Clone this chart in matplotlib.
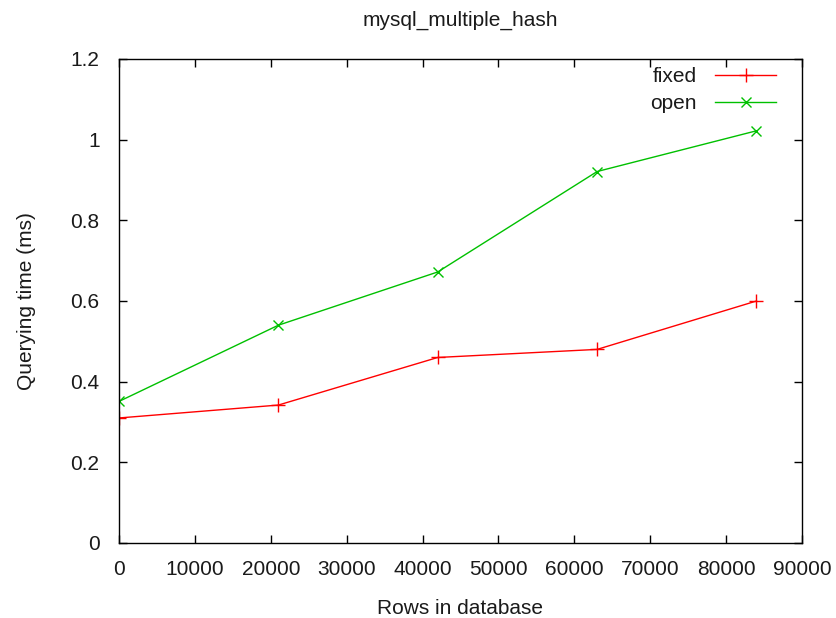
import matplotlib
matplotlib.use("Agg")
import matplotlib.pyplot as plt
from matplotlib.ticker import FuncFormatter

rows = [0, 21000, 42000, 63000, 84000]
fixed = [0.31, 0.342, 0.46, 0.48, 0.60]
open_ = [0.351, 0.54, 0.672, 0.921, 1.022]
xticks = [0, 10000, 20000, 30000, 40000, 50000, 60000, 70000, 80000, 90000]
yticks = [0, 0.2, 0.4, 0.6, 0.8, 1.0, 1.2]

plt.rcParams['font.family'] = ['Liberation Sans', 'DejaVu Sans']
txt = '#1a1a1a'
fs = 15

fig = plt.figure(figsize=(8.37, 6.18), dpi=100)
ax = fig.add_axes([119/837, 1 - 543/618, (802-119)/837, (543-59)/618])

ax.plot(rows, fixed, color='#ff0000', lw=1.0, marker='+', ms=10, mew=1.0, label='fixed')
ax.plot(rows, open_, color='#00c000', lw=1.0, marker='x', ms=7, mew=1.0, label='open')

ax.set_xlim(0, 90000)
ax.set_ylim(0, 1.2)
ax.set_xticks(xticks)
ax.set_yticks(yticks)
ax.yaxis.set_major_formatter(FuncFormatter(lambda v, p: '%g' % v))
ax.xaxis.set_major_formatter(FuncFormatter(lambda v, p: '%d' % v))
ax.tick_params(direction='in', length=6, width=1, top=True, right=True,
               labelsize=fs, colors='black', labelcolor=txt)
ax.tick_params(axis='x', pad=12)
ax.tick_params(axis='y', pad=14)
for s in ax.spines.values():
    s.set_linewidth(1.0)
    s.set_color('black')

ax.set_title('mysql_multiple_hash', fontsize=fs, color=txt, pad=24)
ax.set_xlabel('Rows in database', fontsize=fs, color=txt, labelpad=15)
ax.set_ylabel('Querying time (ms)', fontsize=fs, color=txt, labelpad=25)

leg = ax.legend(loc='upper right', frameon=False, markerfirst=False, fontsize=fs,
                handlelength=2.9, handletextpad=0.9, labelspacing=0.38,
                borderaxespad=0.0, bbox_to_anchor=(0.974, 1.0))
for t in leg.get_texts():
    t.set_color(txt)

fig.savefig('out.png', dpi=100)
